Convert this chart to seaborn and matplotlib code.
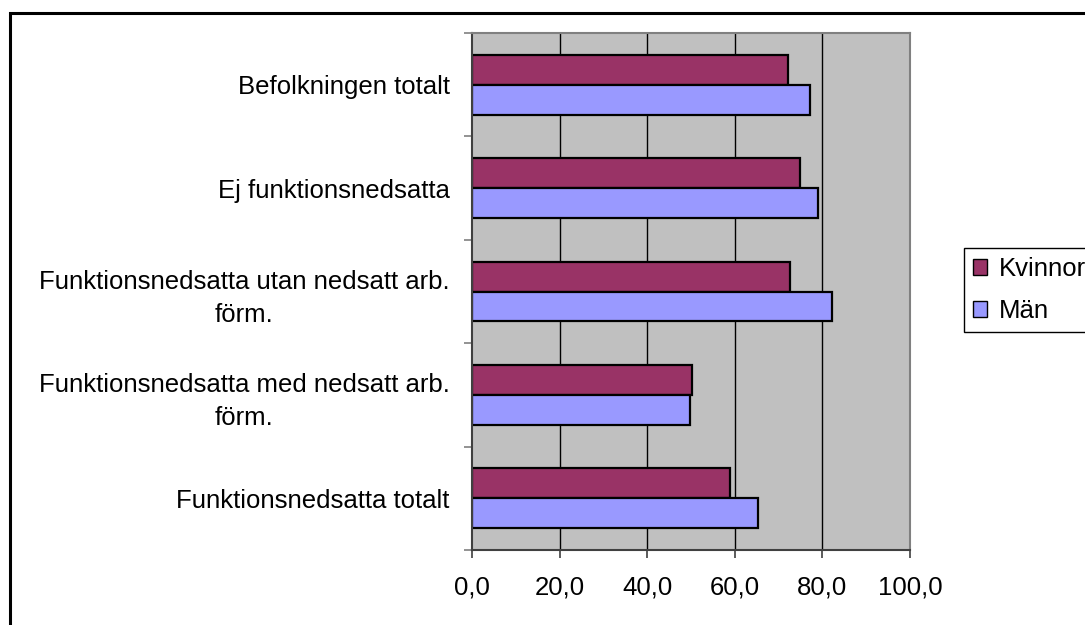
import matplotlib
matplotlib.use("Agg")
import matplotlib.pyplot as plt
import matplotlib.patches as patches
from matplotlib.ticker import FixedLocator, FixedFormatter
import seaborn as sns
import pandas as pd

categories = [
    "Befolkningen totalt",
    "Ej funktionsnedsatta",
    "Funktionsnedsatta utan nedsatt arb.\nförm.",
    "Funktionsnedsatta med nedsatt arb.\nförm.",
    "Funktionsnedsatta totalt",
]
kvinnor = [72.1, 74.9, 72.6, 50.2, 58.9]
man = [77.2, 79.0, 82.2, 49.8, 65.3]
series = ["Kvinnor", "Män"]
colors = ["#993366", "#9999FF"]
xticks = [0, 20, 40, 60, 80, 100]
xticklabels = ["0,0", "20,0", "40,0", "60,0", "80,0", "100,0"]

df = pd.DataFrame({
    "kategori": categories * 2,
    "andel": kvinnor + man,
    "kon": [series[0]] * len(categories) + [series[1]] * len(categories),
})

sns.set_style("white")
plt.rcParams["font.family"] = ["Liberation Sans", "DejaVu Sans"]
plt.rcParams["text.color"] = "black"
fs = 18.5

fig = plt.figure(figsize=(10.85, 6.25), dpi=100)
ax = fig.add_axes([472 / 1085, 75 / 625, 438 / 1085, 517 / 625])
ax.set_facecolor("#C0C0C0")

sns.barplot(data=df, y="kategori", x="andel", hue="kon", order=categories,
            hue_order=series, palette=colors, orient="h", width=0.58,
            edgecolor="black", linewidth=1.6, saturation=1, ax=ax, legend=False)

ax.set_xlim(0, 100)
ax.set_ylim(len(categories) - 0.5, -0.5)
ax.set_xlabel("")
ax.set_ylabel("")

ax.xaxis.set_major_locator(FixedLocator(xticks))
ax.xaxis.set_major_formatter(FixedFormatter(xticklabels))
for v in xticks[1:-1]:
    ax.axvline(v, color="black", lw=1, zorder=0.5)
ax.set_axisbelow(True)

ax.set_yticks(range(len(categories)))
ax.set_yticklabels(categories, multialignment="center", linespacing=1.45)
ax.yaxis.set_minor_locator(FixedLocator([i - 0.5 for i in range(len(categories) + 1)]))
ax.tick_params(axis="y", which="major", length=0, pad=16, labelsize=fs, labelcolor="black")
ax.tick_params(axis="y", which="minor", left=True, length=6, width=1.2, color="#808080")
ax.tick_params(axis="x", which="major", bottom=True, length=6, width=1.2, color="#404040",
               pad=12, labelsize=fs, labelcolor="black")

for side in ["top", "right"]:
    ax.spines[side].set_color("#808080")
    ax.spines[side].set_linewidth(1.5)
for side in ["left", "bottom"]:
    ax.spines[side].set_color("#404040")
    ax.spines[side].set_linewidth(1.5)

handles = [patches.Patch(facecolor=c, edgecolor="black", lw=1) for c in colors]
leg = fig.legend(handles, series, loc="upper left",
                 bbox_to_anchor=(964 / 1085, 1 - 248 / 625), fontsize=fs,
                 frameon=True, fancybox=False, edgecolor="black", framealpha=1,
                 handlelength=0.55, handleheight=0.55, handletextpad=0.45,
                 borderpad=0.35, labelspacing=0.7, borderaxespad=0)
leg.get_frame().set_linewidth(1)
for t in leg.get_texts():
    t.set_color("black")

border = patches.Rectangle((10 / 1085, -0.1), 1.2, 1.1 - 13 / 625, transform=fig.transFigure,
                           fill=False, edgecolor="black", lw=2.2)
fig.patches.append(border)

fig.savefig("out.png", dpi=100)
